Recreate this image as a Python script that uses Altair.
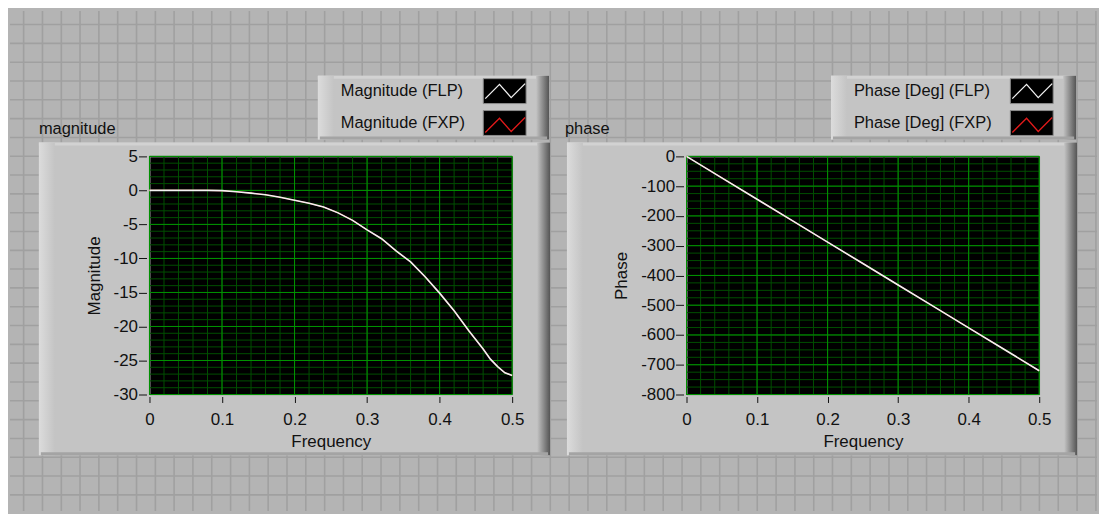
import altair as alt
import pandas as pd

# ---------------- data ----------------
freq_mag = [0.00, 0.02, 0.04, 0.06, 0.08, 0.10, 0.12, 0.14, 0.16, 0.18,
            0.20, 0.22, 0.24, 0.26, 0.28, 0.30, 0.32, 0.34, 0.36, 0.38,
            0.40, 0.42, 0.44, 0.46, 0.47, 0.48, 0.49, 0.50]
mag_flp = [0.0, 0.0, 0.0, 0.0, 0.0, -0.03, -0.2, -0.4, -0.65, -1.0,
           -1.45, -1.9, -2.45, -3.3, -4.4, -5.8, -7.1, -8.9, -10.5, -12.7,
           -15.1, -17.7, -20.6, -23.3, -24.8, -25.9, -26.8, -27.2]
mag_fxp = [0.0, 0.0, 0.0, 0.0, 0.0, -0.03, -0.2, -0.4, -0.65, -1.0,
           -1.45, -1.9, -2.45, -3.3, -4.4, -5.8, -7.1, -8.9, -10.5, -12.7,
           -15.1, -17.7, -20.6, -23.3, -24.8, -25.9, -26.8, -27.2]

freq_phase = [0.00, 0.05, 0.10, 0.15, 0.20, 0.25, 0.30, 0.35, 0.40, 0.45, 0.50]
phase_flp = [0, -72, -144, -216, -288, -360, -432, -504, -576, -648, -720]
phase_fxp = [0, -72, -144, -216, -288, -360, -432, -504, -576, -648, -720]

mag_series = ["Magnitude (FLP)", "Magnitude (FXP)"]
phase_series = ["Phase [Deg] (FLP)", "Phase [Deg] (FXP)"]
panel_titles = ["magnitude", "phase"]
x_title = "Frequency"
y_titles = ["Magnitude", "Phase"]

x_ticks = [0, 0.1, 0.2, 0.3, 0.4, 0.5]
x_minor = [round(i * 0.02, 2) for i in range(26)]
mag_ticks = [5, 0, -5, -10, -15, -20, -25, -30]
mag_minor = list(range(-30, 6))
phase_ticks = [0, -100, -200, -300, -400, -500, -600, -700, -800]
phase_minor = list(range(-800, 1, 25))

# ---------------- style ----------------
FONT = "Liberation Sans"
INK = "#111111"
BG = "#b4b4b4"
FP_LINE = "#a0a0a0"
FRAME = "#c4c4c4"
HILITE = "#dcdcdc"
SHADOW = "#555555"
EDGE = "#a4a4a4"
MAJOR = "#009400"
MINOR = "#004e00"
WHITE = "#f2f2f2"
RED = "#e21a1a"
ZIG = "M-2,0.75L-0.57,-0.68L0.6,0.65L2,-0.75"


def panel(freq, flp, fxp, series, yticks, yminor, ydomain, ytitle, w, h,
          lx, ly, ytitle_pad):
    xs = alt.Scale(domain=[0, 0.5], nice=False, zero=False)
    ys = alt.Scale(domain=ydomain, nice=False, zero=False)
    xaxis = alt.Axis(values=x_ticks, labelExpr="toString(datum.value)", grid=False,
                     domain=False, tickSize=6, tickColor=INK, tickWidth=1, offset=2,
                     labelPadding=9, labelFlush=False, labelOverlap=False,
                     labelFont=FONT, labelFontSize=17, labelColor=INK,
                     title=x_title, titleFont=FONT, titleFontSize=17,
                     titleFontWeight="normal", titleColor=INK, titlePadding=6)
    yaxis = alt.Axis(values=yticks, labelExpr="toString(datum.value)", grid=False,
                     domain=False, tickSize=8, tickColor=INK, tickWidth=1, offset=3,
                     labelPadding=1, labelFlush=False, labelOverlap=False,
                     labelFont=FONT, labelFontSize=17, labelColor=INK,
                     title=ytitle, titleFont=FONT, titleFontSize=17,
                     titleFontWeight="normal", titleColor=INK, titlePadding=ytitle_pad)
    # legend draws only the line icons; its names are written next to it below
    legend = alt.Legend(orient="none", legendX=lx, legendY=ly, direction="vertical",
                        title=None, symbolType=ZIG, symbolSize=400,
                        symbolStrokeWidth=1.3, labelExpr="''", labelFontSize=1,
                        rowPadding=12, padding=0, zindex=1)
    color = alt.Color("s:N", scale=alt.Scale(domain=series, range=[WHITE, RED]),
                      legend=legend)

    gx_min = alt.Chart(pd.DataFrame({"g": x_minor})).mark_rule(
        color=MINOR, strokeWidth=1).encode(x=alt.X("g:Q", scale=xs, axis=xaxis))
    gy_min = alt.Chart(pd.DataFrame({"g": yminor})).mark_rule(
        color=MINOR, strokeWidth=1).encode(y=alt.Y("g:Q", scale=ys, axis=yaxis))
    gx_maj = alt.Chart(pd.DataFrame({"g": x_ticks})).mark_rule(
        color=MAJOR, strokeWidth=1).encode(x=alt.X("g:Q", scale=xs, axis=xaxis))
    gy_maj = alt.Chart(pd.DataFrame({"g": yticks})).mark_rule(
        color=MAJOR, strokeWidth=1).encode(y=alt.Y("g:Q", scale=ys, axis=yaxis))

    d_fxp = pd.DataFrame({"f": freq, "v": fxp, "s": series[1]})
    d_flp = pd.DataFrame({"f": freq, "v": flp, "s": series[0]})
    l_fxp = alt.Chart(d_fxp).mark_line(strokeWidth=1.1).encode(
        x=alt.X("f:Q", scale=xs, axis=xaxis), y=alt.Y("v:Q", scale=ys, axis=yaxis),
        color=color)
    l_flp = alt.Chart(d_flp).mark_line(strokeWidth=1.6).encode(
        x=alt.X("f:Q", scale=xs, axis=xaxis), y=alt.Y("v:Q", scale=ys, axis=yaxis),
        color=color)
    return alt.layer(gx_min, gy_min, gx_maj, gy_maj, l_fxp, l_flp).properties(
        width=w, height=h,
        view=alt.ViewBackground(fill="black", stroke="#a8a8a8", strokeWidth=1))


mag = panel(freq_mag, mag_flp, mag_fxp, mag_series, mag_ticks, mag_minor, [-30, 5],
            y_titles[0], 364, 239, 346, -76.5, 10)
phase = panel(freq_phase, phase_flp, phase_fxp, phase_series, phase_ticks, phase_minor,
              [-800, 0], y_titles[1], 354, 239, 336, -76.5, 10)


# ---------------- front-panel decoration (pixel offsets) ----------------
def rect(x, y, x2, y2, fill, **kw):
    return alt.Chart().mark_rect(fill=fill, **kw).encode(
        x=alt.value(x), x2=alt.value(x2), y=alt.value(y), y2=alt.value(y2))


def label(x, y, t, baseline="middle", size=16.5):
    return alt.Chart().mark_text(text=t, align="left", baseline=baseline,
                                 font=FONT, fontSize=size, color=INK).encode(
        x=alt.value(x), y=alt.value(y))


def hgrad(c1, c2):
    return alt.LinearGradient(gradient="linear",
                              stops=[alt.GradientStop(color=c1, offset=0),
                                     alt.GradientStop(color=c2, offset=1)],
                              x1=0, x2=1, y1=0, y2=0)


def frame(x1, y1, x2, y2):
    return [
        rect(x1, y1, x2, y2, FRAME),
        rect(x1, y1, x2, y1 + 3, "#d2d2d2"),
        rect(x1, y1, x1 + 16, y2, hgrad(HILITE, FRAME)),
        rect(x2 - 13, y1, x2, y2, hgrad(FRAME, SHADOW)),
        rect(x1 + 2, y2 - 3, x2 - 2, y2, EDGE),
    ]


W_ALL, H_ALL = 1091, 502
X0, Y0 = -140, -145
fp_x = [round(-126.3 + 18.88 * k, 1) for k in range(58)]
fp_y = [round(-131.3 + 18.88 * k, 1) for k in range(27)]
fp_x = [v for v in fp_x if v < X0 + W_ALL - 1]
fp_y = [v for v in fp_y if v < Y0 + H_ALL - 1]

bg_layers = [rect(X0, Y0, X0 + W_ALL, Y0 + H_ALL, BG),
             alt.Chart(pd.DataFrame({"p": fp_x})).mark_rule(color=FP_LINE, strokeWidth=1.6).encode(
                 x=alt.X("p:Q", scale=None), y=alt.value(Y0), y2=alt.value(Y0 + H_ALL)),
             alt.Chart(pd.DataFrame({"p": fp_y})).mark_rule(color=FP_LINE, strokeWidth=1.6).encode(
                 y=alt.Y("p:Q", scale=None), x=alt.value(X0), x2=alt.value(X0 + W_ALL))]
bg_layers += frame(-111, -13, 402, 301)
bg_layers += frame(419, -13, 931, 301)
bg_layers += frame(169, -80, 401, -16)
bg_layers += frame(684, -80, 930, -16)
for bx in (335, 864):
    bg_layers.append(rect(bx, -77, bx + 43, -52, "black", stroke="#8c8c8c", strokeWidth=1))
    bg_layers.append(rect(bx, -45, bx + 43, -20, "black", stroke="#8c8c8c", strokeWidth=1))
bg_layers.append(label(-111, -21, panel_titles[0], baseline="alphabetic"))
bg_layers.append(label(417, -21, panel_titles[1], baseline="alphabetic"))
bg_layers.append(label(192, -64.5, mag_series[0]))
bg_layers.append(label(192, -32.5, mag_series[1]))
bg_layers.append(label(707, -64.5, phase_series[0]))
bg_layers.append(label(707, -32.5, phase_series[1]))

bg = alt.layer(*bg_layers, data=pd.DataFrame({"k": [0]})).properties(
    width=1, height=1, view=alt.ViewBackground(fill="transparent", stroke="transparent"))

charts = alt.hconcat(mag, phase, spacing=175, bounds="flush").resolve_scale(
    color="independent").resolve_legend(color="independent")

chart = alt.vconcat(bg, charts, spacing=0, bounds="flush").properties(
    padding=0).configure(background=BG).configure_view(stroke="transparent")

chart.save("out.html", embed_options={"renderer": "svg", "actions": False})
